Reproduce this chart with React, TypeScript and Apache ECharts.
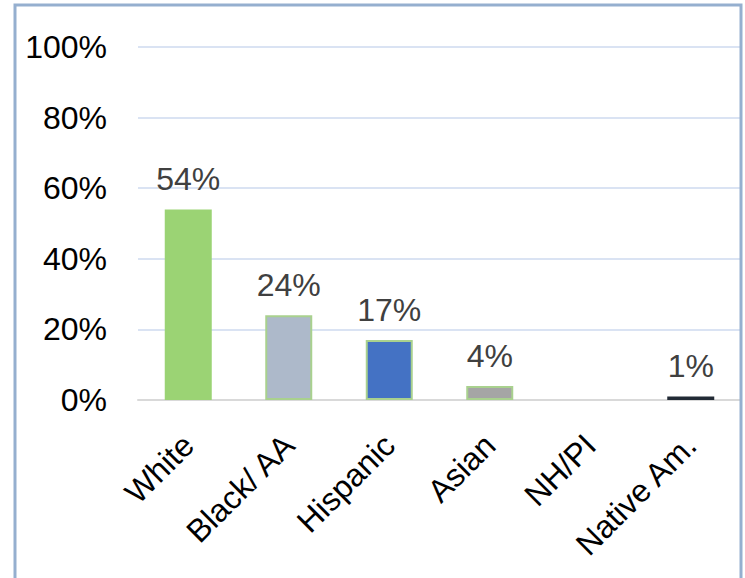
import React, { useEffect, useRef } from "react";
import * as echarts from "echarts";

const categories = ["White", "Black/ AA", "Hispanic", "Asian", "NH/PI", "Native Am."];
const values = [54, 24, 17, 4, 0, 1];
const barColors = ["#9BD374", "#ADB9CA", "#4472C4", "#A5A5A5", "#A5A5A5", "#222A35"];
const barBorders = ["#9BD374", "#A9D18E", "#A9D18E", "#A9D18E", "#A9D18E", "#222A35"];

export default function App() {
  const ref = useRef<HTMLDivElement>(null);
  useEffect(() => {
    if (!ref.current) return;
    const chart = echarts.init(ref.current, null, { renderer: "svg" });
    const font = "Liberation Sans, Arial, sans-serif";
    chart.setOption({
      animation: false,
      backgroundColor: "#ffffff",
      grid: { left: 138, right: 4, top: 47, bottom: 178, containLabel: false },
      graphic: [
        {
          type: "rect",
          shape: { x: 15, y: 5, width: 726, height: 620 },
          style: { fill: "none", stroke: "#95AFCF", lineWidth: 3 },
          z: 100,
        },
      ],
      xAxis: {
        type: "category",
        data: categories,
        axisLine: { show: true, lineStyle: { color: "#D9D9D9", width: 2 } },
        axisTick: { show: false },
        axisLabel: {
          rotate: 45,
          interval: 0,
          color: "#000000",
          fontFamily: font,
          fontSize: 32,
          margin: 40,
        },
      },
      yAxis: {
        type: "value",
        min: 0,
        max: 100,
        interval: 20,
        axisLine: { show: false },
        axisTick: { show: false },
        splitLine: { lineStyle: { color: "#DAE3F3", width: 2 } },
        axisLabel: {
          formatter: (v: number) => v + "%",
          color: "#000000",
          fontFamily: font,
          fontSize: 32,
          margin: 31,
        },
      },
      series: [
        {
          type: "bar",
          barWidth: 47,
          data: values.map((v, i) => ({
            value: v,
            itemStyle:
              v === 0
                ? { color: "rgba(0,0,0,0)", borderWidth: 0 }
                : { color: barColors[i], borderColor: barBorders[i], borderWidth: 2 },
          })),
          label: {
            show: true,
            position: "top",
            distance: 14,
            color: "#404040",
            fontFamily: font,
            fontSize: 32,
            formatter: (p: any) => (p.value === 0 ? "" : p.value + "%"),
          },
        },
      ],
    });
    return () => chart.dispose();
  }, []);
  return (
    <div
      ref={ref}
      style={{ position: "absolute", left: 0, top: 0, width: 745, height: 578 }}
    />
  );
}
